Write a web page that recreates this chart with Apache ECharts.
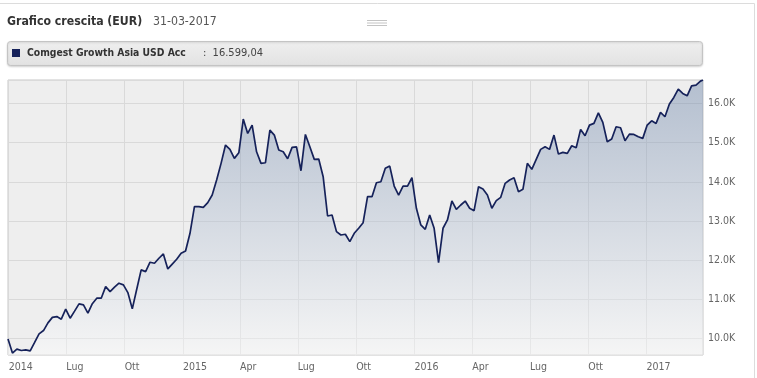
<!DOCTYPE html>
<html>
<head>
<meta charset="utf-8">
<title>Grafico crescita</title>
<script src="https://cdn.jsdelivr.net/npm/echarts@6.0.0/dist/echarts.min.js"></script>
<style>
  html, body { margin: 0; padding: 0; background: #fff; }
  #chart { width: 757px; height: 378px; }
</style>
</head>
<body>
<div id="chart"></div>
<script>
// Grafico crescita - Comgest Growth Asia USD Acc (EUR), settimanale

var weekDates = [
  '2014-03-31','2014-04-07','2014-04-14','2014-04-21','2014-04-28','2014-05-05','2014-05-12','2014-05-19','2014-05-26','2014-06-02',
  '2014-06-09','2014-06-16','2014-06-23','2014-06-30','2014-07-07','2014-07-14','2014-07-21','2014-07-28','2014-08-04','2014-08-11',
  '2014-08-18','2014-08-25','2014-09-01','2014-09-08','2014-09-15','2014-09-22','2014-09-29','2014-10-06','2014-10-13','2014-10-20',
  '2014-10-27','2014-11-03','2014-11-10','2014-11-17','2014-11-24','2014-12-01','2014-12-08','2014-12-15','2014-12-22','2014-12-29',
  '2015-01-05','2015-01-12','2015-01-19','2015-01-26','2015-02-02','2015-02-09','2015-02-16','2015-02-23','2015-03-02','2015-03-09',
  '2015-03-16','2015-03-23','2015-03-30','2015-04-06','2015-04-13','2015-04-20','2015-04-27','2015-05-04','2015-05-11','2015-05-18',
  '2015-05-25','2015-06-01','2015-06-08','2015-06-15','2015-06-22','2015-06-29','2015-07-06','2015-07-13','2015-07-20','2015-07-27',
  '2015-08-03','2015-08-10','2015-08-17','2015-08-24','2015-08-31','2015-09-07','2015-09-14','2015-09-21','2015-09-28','2015-10-05',
  '2015-10-12','2015-10-19','2015-10-26','2015-11-02','2015-11-09','2015-11-16','2015-11-23','2015-11-30','2015-12-07','2015-12-14',
  '2015-12-21','2015-12-28',
  '2016-01-04','2016-01-11','2016-01-18','2016-01-25','2016-02-01','2016-02-08','2016-02-15','2016-02-22','2016-02-29','2016-03-07',
  '2016-03-14','2016-03-21','2016-03-28','2016-04-04','2016-04-11','2016-04-18','2016-04-25','2016-05-02','2016-05-09','2016-05-16',
  '2016-05-23','2016-05-30','2016-06-06','2016-06-13','2016-06-20','2016-06-27','2016-07-04','2016-07-11','2016-07-18','2016-07-25',
  '2016-08-01','2016-08-08','2016-08-15','2016-08-22','2016-08-29','2016-09-05','2016-09-12','2016-09-19','2016-09-26','2016-10-03',
  '2016-10-10','2016-10-17','2016-10-24','2016-10-31','2016-11-07','2016-11-14','2016-11-21','2016-11-28','2016-12-05','2016-12-12',
  '2016-12-19','2016-12-26',
  '2017-01-02','2017-01-09','2017-01-16','2017-01-23','2017-01-30','2017-02-06','2017-02-13','2017-02-20','2017-02-27','2017-03-06',
  '2017-03-13','2017-03-20','2017-03-27','2017-03-31'
];

var fundValues = [
  9990, 9628, 9730, 9694, 9712, 9686, 9900, 10120, 10204, 10400,
  10540, 10561, 10495, 10750, 10520, 10700, 10885, 10859, 10648, 10890,
  11030, 11030, 11326, 11198, 11310, 11412, 11369, 11173, 10757, 11259,
  11752, 11708, 11948, 11922, 12050, 12160, 11777, 11900, 12024, 12177,
  12236, 12687, 13366, 13366, 13350, 13468, 13664, 14047, 14472, 14939,
  14829, 14600, 14742, 15602, 15237, 15449, 14768, 14472, 14488, 15321,
  15194, 14812, 14768, 14590, 14880, 14895, 14284, 15211, 14895, 14574,
  14582, 14131, 13128, 13154, 12729, 12644, 12662, 12473, 12687, 12815,
  12958, 13621, 13621, 13978, 14003, 14345, 14403, 13893, 13664, 13893,
  13893, 14105,
  13325, 12899, 12789, 13154, 12815, 11938, 12815, 13027, 13511, 13299,
  13409, 13511, 13325, 13264, 13876, 13817, 13664, 13325, 13519, 13605,
  13962, 14047, 14105, 13748, 13809, 14472, 14319, 14574, 14829, 14895,
  14829, 15194, 14709, 14753, 14727, 14921, 14870, 15339, 15176, 15449,
  15492, 15762, 15518, 15023, 15092, 15406, 15380, 15048, 15219, 15211,
  15150, 15110,
  15449, 15559, 15492, 15773, 15662, 15985, 16155, 16367, 16257, 16196,
  16451, 16469, 16571, 16599.04
];

var tickDates = [
  '2014-04-01','2014-07-01','2014-10-01','2015-01-01','2015-04-01','2015-07-01',
  '2015-10-01','2016-01-01','2016-04-01','2016-07-01','2016-10-01','2017-01-01'
];
var tickLabels = ['2014','Lug','Ott','2015','Apr','Lug','Ott','2016','Apr','Lug','Ott','2017'];

var yTicks = [10000, 11000, 12000, 13000, 14000, 15000, 16000];

var seriesName = 'Comgest Growth Asia USD Acc';
var lastValueText = '16.599,04';

function toTime(s) {
  var p = s.split('-');
  return Date.UTC(+p[0], +p[1] - 1, +p[2]);
}

var lineData = weekDates.map(function (d, i) { return [toTime(d), fundValues[i]]; });
var tickTimes = tickDates.map(toTime);

var navy = '#16225a';
var font = "'DejaVu Sans Condensed', 'DejaVu Sans', sans-serif";

var option = {
  animation: false,
  textStyle: { fontFamily: font },
  grid: {
    left: 8,
    right: 54,
    top: 80,
    bottom: 23,
    show: true,
    backgroundColor: '#eeeeee',
    borderColor: '#c6c6c6',
    borderWidth: 1
  },
  graphic: [
    // cornice esterna
    { type: 'line', shape: { x1: 0, y1: 3.5, x2: 754.5, y2: 3.5 }, style: { stroke: '#dcdcdc', lineWidth: 1 } },
    { type: 'line', shape: { x1: 754.5, y1: 3.5, x2: 754.5, y2: 378 }, style: { stroke: '#dcdcdc', lineWidth: 1 } },
    // titolo
    {
      type: 'text', left: 7, top: 16,
      style: { text: 'Grafico crescita (EUR)', fill: '#333333', font: 'bold 12.2px ' + font }
    },
    {
      type: 'text', left: 153, top: 16,
      style: { text: '31-03-2017', fill: '#555555', font: '12.2px ' + font }
    },
    // icona menu
    { type: 'line', shape: { x1: 367, y1: 20.5, x2: 387, y2: 20.5 }, style: { stroke: '#c4c4c4', lineWidth: 1 } },
    { type: 'line', shape: { x1: 367, y1: 23, x2: 387, y2: 23 }, style: { stroke: '#c4c4c4', lineWidth: 1 } },
    { type: 'line', shape: { x1: 367, y1: 25.5, x2: 387, y2: 25.5 }, style: { stroke: '#c4c4c4', lineWidth: 1 } },
    // box legenda
    {
      type: 'rect',
      shape: { x: 7.5, y: 41.5, width: 695, height: 24, r: 3 },
      style: {
        fill: new echarts.graphic.LinearGradient(0, 0, 0, 1, [
          { offset: 0, color: '#efefef' },
          { offset: 1, color: '#e2e2e2' }
        ]),
        stroke: '#c4c4c4',
        lineWidth: 1,
        shadowBlur: 2,
        shadowOffsetY: 1,
        shadowColor: 'rgba(0,0,0,0.15)'
      }
    },
    { type: 'rect', shape: { x: 12, y: 49, width: 8, height: 8 }, style: { fill: navy } },
    {
      type: 'text', left: 27, top: 48,
      style: { text: seriesName, fill: '#333333', font: 'bold 10.3px ' + font }
    },
    {
      type: 'text', left: 203, top: 48,
      style: { text: ':  ' + lastValueText, fill: '#444444', font: '11px ' + font }
    }
  ],
  xAxis: {
    type: 'value',
    min: 'dataMin',
    max: 'dataMax',
    axisLine: { show: false },
    axisTick: { show: false, customValues: tickTimes },
    splitLine: { show: true, lineStyle: { color: '#d9d9d9', width: 1 } },
    axisLabel: {
      customValues: tickTimes,
      align: 'left',
      margin: 7,
      color: '#666666',
      fontSize: 10.5,
      fontFamily: font,
      formatter: function (v) {
        var i = tickTimes.indexOf(v);
        return i >= 0 ? tickLabels[i] : '';
      }
    }
  },
  yAxis: {
    type: 'value',
    position: 'right',
    min: 9580,
    max: 16600,
    axisLine: { show: false },
    axisTick: { show: false, customValues: yTicks },
    splitLine: { show: true, lineStyle: { color: '#d9d9d9', width: 1 } },
    axisLabel: {
      customValues: yTicks,
      margin: 5,
      color: '#666666',
      fontSize: 10.5,
      fontFamily: font,
      formatter: function (v) { return (v / 1000).toFixed(1) + 'K'; }
    }
  },
  series: [
    {
      name: seriesName,
      type: 'line',
      data: lineData,
      showSymbol: false,
      symbol: 'none',
      lineStyle: { color: navy, width: 1.7 },
      itemStyle: { color: navy },
      areaStyle: {
        color: new echarts.graphic.LinearGradient(0, 0, 0, 1, [
          { offset: 0, color: 'rgba(95,122,162,0.58)' },
          { offset: 1, color: 'rgba(255,255,255,0.6)' }
        ])
      }
    }
  ]
};

var myChart = echarts.init(document.getElementById('chart'));
myChart.setOption(option);
</script>
</body>
</html>
